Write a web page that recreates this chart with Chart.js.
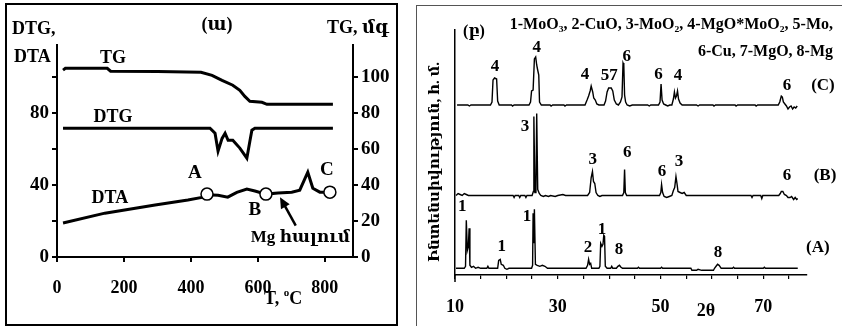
<!DOCTYPE html>
<html>
<head>
<meta charset="utf-8">
<title>TG/DTA and XRD</title>
<script src="https://cdn.jsdelivr.net/npm/chart.js@4.4.0/dist/chart.umd.min.js"></script>
<style>
  html, body { margin: 0; padding: 0; background: #fff; }
  body { width: 842px; height: 326px; position: relative; overflow: hidden; }
  .frame { position: absolute; box-sizing: border-box; pointer-events: none; }
  #frame-left { left: 5px; top: 3px; width: 393px; height: 323px; border: 2px solid #000; }
  #frame-right { left: 416px; top: 5px; width: 440px; height: 340px; border: 1px solid #555; }
  .wrap { position: absolute; top: 0; height: 326px; }
  #thermo-wrap { left: 0; width: 400px; }
  #xrd-wrap { left: 420px; width: 422px; }
</style>
</head>
<body>
<div class="wrap" id="thermo-wrap"><canvas id="thermo-chart"></canvas></div>
<div class="wrap" id="xrd-wrap"><canvas id="xrd-chart"></canvas></div>
<div class="frame" id="frame-left"></div>
<div class="frame" id="frame-right"></div>

<script>
// ---- left panel: thermal analysis ----
const TG_T  = [18, 25, 150, 160, 300, 430, 463, 493, 525, 546, 561, 576, 612, 627, 824];
const TG_MG = [104, 105, 105, 103.4, 103.2, 102.8, 101.1, 98.3, 95.6, 92.8, 89.4, 86.7, 86.1, 85, 85];

const DTG_T = [18, 457, 472, 481, 493, 502, 511, 525, 546, 567, 576, 582, 591, 824];
const DTG_V = [71.7, 71.7, 68.9, 58.9, 66, 68.9, 65, 65, 60.6, 55, 64.4, 70.6, 71.7, 71.7];

const DTA_T = [18, 143, 293, 391, 433, 448, 481, 510, 537, 567, 591, 624, 660, 701, 725, 749, 764, 785, 815];
const DTA_V = [18.9, 24.4, 28.9, 31.7, 33.2, 34.6, 34.4, 33.3, 36, 37.8, 36.7, 35, 35.6, 36.1, 37.2, 47.2, 38.3, 36.1, 36.1];

// points A, B, C on the DTA curve
const MARK_T = [448, 624, 815];
const MARK_V = [35, 35, 36.1];
const MARK_NAMES = ["A", "B", "C"];

const T_TICKS = [0, 200, 400, 600, 800];
const DTA_TICKS = [0, 20, 40, 60, 80, 100];
const DTA_LABELS = [0, 40, 80];
const TG_TICKS = [0, 10, 20, 30, 40, 50, 60, 70, 80, 90, 100, 110];
const TG_LABELS = [0, 20, 40, 60, 80, 100];

// ---- right panel: XRD patterns, [2theta, intensity above own baseline] ----
const XRD_A = [
  [10.2, 0], [11.8, 0], [12.05, 2], [12.2, 48], [12.4, 18], [12.6, 22], [12.75, 40], [12.9, 3], [13.2, 1], [13.6, 2], [14.0, 0], [14.5, 1], [15.0, 0], [16.2, 0], [16.4, 2], [16.6, 0],
  [18.3, 0], [18.5, 8], [18.8, 9], [19.0, 4], [19.4, 3], [19.7, 0], [20.1, -1], [20.5, 0],
  [24.9, 0], [25.1, 3], [25.2, 55], [25.35, 25], [25.45, 59], [25.65, 4], [26.0, 3], [26.5, 2], [27.0, 3], [27.5, 2], [28.0, 0],
  [35.5, 0], [35.8, 3], [36.0, 9], [36.2, 4], [36.4, 5], [36.6, 0],
  [38.0, 0], [38.2, 2], [38.35, 25], [38.6, 22], [38.8, 24], [38.95, 33], [39.1, 32], [39.25, 2], [39.6, 0],
  [40.3, 0], [40.5, 2], [40.7, 0], [41.4, 0], [41.7, 2], [42.0, 3], [42.3, 1], [42.6, 0],
  [45.5, 0], [45.7, 1], [45.9, 0], [50.0, 0], [50.2, 1], [50.4, 0],
  [55.9, 0], [56.1, -2], [57.0, -2], [57.3, -1], [58.0, -2], [59.5, -2], [60.3, -2], [60.5, 0], [60.8, 2], [61.1, 4], [61.4, 3], [61.8, 0],
  [64.0, 0], [64.2, 1], [64.4, 0], [70.0, 0], [70.2, 1], [70.4, 0], [76.7, 0]
];
const XRD_B = [
  [10.2, 0], [10.6, 2], [11.0, 1], [11.4, 0], [11.8, 2], [12.2, 1], [12.6, 0], [21.3, 0], [21.5, -2], [21.7, 0], [22.4, 0], [22.6, -2], [22.8, 0], [23.6, 0], [23.8, -2], [24.0, 0],
  [25.0, 0], [25.25, 4], [25.35, 79], [25.55, 3], [25.75, 3], [25.9, 82], [26.1, 6], [26.4, 2], [26.7, 0], [27.2, -1], [27.6, 0], [28.2, -1], [28.6, 0], [29.5, -1], [30.0, 0], [31.0, 1], [31.5, 0],
  [35.8, 0], [36.2, 3], [36.5, 18], [36.75, 24], [36.95, 14], [37.2, 12], [37.45, 3], [37.8, 0], [38.2, -1], [38.6, 0],
  [42.6, 0], [42.85, 3], [43.0, 26], [43.15, 3], [43.4, 0],
  [49.8, 0], [50.05, 3], [50.2, 11], [50.4, 3], [50.7, -1], [51.2, -2], [51.7, -1], [52.2, 0], [52.5, 5], [52.75, 8], [53.0, 19], [53.2, 12], [53.4, 4], [53.8, 3], [54.2, 2], [54.6, 3], [55.0, 0],
  [67.6, 0], [67.8, -2], [68.0, 0], [69.5, 0], [69.7, -3], [69.9, 0],
  [73.0, 0], [73.3, 2], [73.5, 4], [73.8, 4], [74.1, 1], [74.5, 0], [74.8, -2], [75.2, -2], [75.5, -1], [75.9, -4], [76.2, -2], [76.5, -4], [76.7, -3]
];
const XRD_C = [
  [10.4, 0], [12.5, 0], [12.8, -1], [13.1, 0], [16.9, 0], [17.2, 3], [17.4, 25], [17.7, 27], [18.1, 26], [18.3, 4], [18.6, 0],
  [21.0, 0], [21.2, -1], [21.5, 0], [24.4, 0], [24.7, 3], [24.9, 14], [25.2, 15], [25.45, 46], [25.7, 48], [25.9, 40], [26.05, 36], [26.3, 30], [26.45, 3], [26.8, 0],
  [28.5, 0], [28.7, -1], [29.0, 0], [31.2, 0], [31.4, -1], [31.7, 0], [35.3, 0], [35.7, 5], [36.0, 9], [36.3, 14], [36.5, 19], [36.8, 13], [37.0, 7], [37.3, 5], [37.6, 1], [38.0, 0],
  [39.0, 0], [39.3, 4], [39.6, 13], [39.9, 17], [40.4, 17], [40.7, 14], [41.0, 5], [41.4, 1], [41.8, 0],
  [42.2, 3], [42.5, 8], [42.7, 42], [42.85, 40], [43.0, 10], [43.2, 3], [43.5, 0], [44.0, -1], [44.5, 0],
  [47.5, 0], [47.8, -1], [48.1, 0], [49.6, 0], [49.9, 3], [50.1, 21], [50.3, 5], [50.6, 1], [51.0, 0], [51.4, -1], [51.8, 0],
  [52.2, 0], [52.5, 6], [52.7, 13], [52.9, 7], [53.1, 9], [53.3, 14], [53.5, 6], [53.8, 2], [54.2, 0],
  [57.0, 0], [57.3, -1], [57.6, 0], [60.2, 0], [60.4, -1], [60.7, 0], [64.5, 0], [64.7, -1], [65.0, 0], [68.4, 0], [68.6, -1], [68.9, 0],
  [72.9, 0], [73.2, 3], [73.5, 9], [73.7, 8], [73.9, 3], [74.2, 1], [74.5, -1], [74.8, -4], [75.1, -2], [75.4, -1], [75.7, -4], [76.0, -2], [76.3, -3], [76.6, -1]
];
// vertical stacking of the three patterns (A bottom, C top)
const XRD_OFFSET = { A: 6.7, B: 79.5, C: 170 };

const TWO_THETA_TICKS = [10, 15, 20, 25, 30, 35, 40, 45, 50, 55, 60, 65, 70, 75];
const TWO_THETA_LABELS = [10, 30, 50, 70];

const PHASES_1 = "1-MoO\u2083, 2-CuO, 3-MoO\u2082, 4-MgO*MoO\u2082, 5-Mo,";
const PHASES_2 = "6-Cu, 7-MgO, 8-Mg";

const SERIF = '"Liberation Serif", "DejaVu Serif", serif';

function pairs(xs, ys) {
  return xs.map((x, i) => ({ x: x, y: ys[i] }));
}

// text helper for the annotation plugins
function label(ctx, text, x, y, size, align) {
  ctx.font = "bold " + size + "px " + SERIF;
  ctx.textAlign = align || "center";
  ctx.textBaseline = "middle";
  ctx.fillText(text, x, y);
}

// labels, arrow and axis titles of the thermal chart
const thermoNotes = {
  id: "thermoNotes",
  afterDraw(chart) {
    const ctx = chart.ctx;
    const x = chart.scales.x;
    const y = chart.scales.y;
    ctx.save();
    ctx.fillStyle = "#000";
    ctx.strokeStyle = "#000";

    label(ctx, "TG", x.getPixelForValue(167), y.getPixelForValue(110.6), 18);
    label(ctx, "DTG", x.getPixelForValue(167), y.getPixelForValue(77.8), 18);
    label(ctx, "DTA", x.getPixelForValue(158), y.getPixelForValue(32.8), 18);
    label(ctx, MARK_NAMES[0], x.getPixelForValue(412), y.getPixelForValue(46.7), 19);
    label(ctx, MARK_NAMES[1], x.getPixelForValue(591), y.getPixelForValue(26), 19);
    label(ctx, MARK_NAMES[2], x.getPixelForValue(806), y.getPixelForValue(48.3), 19);
    label(ctx, "Mg հալում", x.getPixelForValue(727), y.getPixelForValue(11), 17);

    // arrow pointing at the DTA curve
    const x0 = x.getPixelForValue(713), y0 = y.getPixelForValue(17.5);
    const x1 = x.getPixelForValue(666), y1 = y.getPixelForValue(33.3);
    const ang = Math.atan2(y1 - y0, x1 - x0);
    ctx.lineWidth = 2.5;
    ctx.beginPath();
    ctx.moveTo(x0, y0);
    ctx.lineTo(x1 - 6 * Math.cos(ang), y1 - 6 * Math.sin(ang));
    ctx.stroke();
    ctx.beginPath();
    ctx.moveTo(x1, y1);
    ctx.lineTo(x1 - 11 * Math.cos(ang) + 5 * Math.sin(ang), y1 - 11 * Math.sin(ang) - 5 * Math.cos(ang));
    ctx.lineTo(x1 - 11 * Math.cos(ang) - 5 * Math.sin(ang), y1 - 11 * Math.sin(ang) + 5 * Math.cos(ang));
    ctx.closePath();
    ctx.fill();

    // axis titles
    label(ctx, "DTG,", 12, 29, 18, "left");
    label(ctx, "DTA", 14, 57, 18, "left");
    label(ctx, "TG, մգ", 327, 28, 18, "left");
    label(ctx, "(ա)", 217, 25, 18);
    ctx.font = "bold 18px " + SERIF;
    ctx.textAlign = "left";
    ctx.textBaseline = "middle";
    ctx.fillText("T, ", 264, 299);
    let w = ctx.measureText("T, ").width;
    ctx.font = "bold 11px " + SERIF;
    ctx.fillText("o", 264 + w, 293);
    w += ctx.measureText("o").width;
    ctx.font = "bold 18px " + SERIF;
    ctx.fillText("C", 264 + w, 299);
    ctx.restore();
  }
};

// phase numbers, legend and titles of the XRD chart
const PEAK_NOTES = [
  [17.8, 208, "4"], [25.9, 227, "4"], [35.3, 200, "4"], [40.0, 199, "57"], [43.4, 218, "6"], [49.6, 200, "6"], [53.4, 199, "4"], [74.6, 189, "6"], [81.6, 189, "(C)"],
  [23.6, 148, "3"], [36.8, 115, "3"], [43.5, 122, "6"], [50.3, 103, "6"], [53.6, 113, "3"], [74.6, 99, "6"], [82.0, 99, "(B)"],
  [11.4, 68, "1"], [19.1, 28, "1"], [24.0, 58, "1"], [35.9, 27, "2"], [38.6, 45, "1"], [41.9, 25, "8"], [61.2, 22, "8"], [80.6, 27, "(A)"]
];

const xrdNotes = {
  id: "xrdNotes",
  afterDraw(chart) {
    const ctx = chart.ctx;
    const x = chart.scales.x;
    const y = chart.scales.y;
    const area = chart.chartArea;
    ctx.save();
    ctx.fillStyle = "#000";
    ctx.strokeStyle = "#000";
    PEAK_NOTES.forEach((n) => {
      label(ctx, n[2], x.getPixelForValue(n[0]), y.getPixelForValue(n[1]), 17);
    });
    // y axis runs a little below the 2theta axis
    ctx.lineWidth = 1.5;
    ctx.beginPath();
    ctx.moveTo(area.left, area.bottom);
    ctx.lineTo(area.left, area.bottom + 7);
    ctx.stroke();

    label(ctx, PHASES_1, 413, 25, 16, "right");
    label(ctx, PHASES_2, 413, 52, 16, "right");
    label(ctx, "(բ)", 54, 32, 16);
    label(ctx, "2θ", 286, 311, 18);

    ctx.translate(15, 162);
    ctx.rotate(-Math.PI / 2);
    label(ctx, "Ինտենսիվություն, հ. մ.", 0, 0, 15);
    ctx.restore();
  }
};

const tickFont = { family: SERIF, size: 18, weight: "bold" };
const sideFont = { family: SERIF, size: 19, weight: "bold" };

const thermoChart = new Chart(document.getElementById("thermo-chart"), {
  type: "line",
  data: {
    datasets: [
      {
        label: "points",
        data: pairs(MARK_T, MARK_V),
        yAxisID: "y",
        showLine: false,
        pointRadius: 6,
        pointBorderWidth: 1.5,
        pointBackgroundColor: "#fff",
        pointBorderColor: "#000",
        order: 0,
      },
      { label: "TG", data: pairs(TG_T, TG_MG), yAxisID: "y2", borderColor: "#000", borderWidth: 3, pointRadius: 0, order: 1 },
      { label: "DTG", data: pairs(DTG_T, DTG_V), yAxisID: "y", borderColor: "#000", borderWidth: 3, pointRadius: 0, order: 1 },
      { label: "DTA", data: pairs(DTA_T, DTA_V), yAxisID: "y", borderColor: "#000", borderWidth: 3, pointRadius: 0, order: 1 },
    ],
  },
  options: {
    responsive: true,
    maintainAspectRatio: false,
    animation: false,
    devicePixelRatio: 1,
    layout: { padding: { top: 45, left: 0, right: 0, bottom: 0 } },
    plugins: { legend: { display: false }, tooltip: { enabled: false } },
    scales: {
      x: {
        type: "linear",
        min: 0,
        max: 884,
        afterBuildTicks: (s) => { s.ticks = T_TICKS.map((v) => ({ value: v })); },
        afterFit: (s) => { s.height = 69; },
        grid: { drawOnChartArea: false, tickLength: 5, color: "#000", lineWidth: 2 },
        border: { color: "#000", width: 2 },
        ticks: { color: "#000", font: tickFont, padding: 16, maxRotation: 0 },
      },
      y: {
        position: "left",
        min: 0,
        max: 118,
        afterBuildTicks: (s) => { s.ticks = DTA_TICKS.map((v) => ({ value: v })); },
        afterFit: (s) => { s.width = 57; },
        grid: { drawOnChartArea: false, tickLength: 5, color: "#000", lineWidth: 2 },
        border: { color: "#000", width: 2 },
        ticks: { color: "#000", font: sideFont, padding: 3, callback: (v) => (DTA_LABELS.includes(v) ? String(v) : "") },
      },
      y2: {
        position: "right",
        min: 0,
        max: 118,
        afterBuildTicks: (s) => { s.ticks = TG_TICKS.map((v) => ({ value: v })); },
        afterFit: (s) => { s.width = 47; },
        grid: { drawOnChartArea: false, tickLength: 5, color: "#000", lineWidth: 2 },
        border: { color: "#000", width: 2 },
        ticks: { color: "#000", font: sideFont, padding: 3, callback: (v) => (TG_LABELS.includes(v) ? String(v) : "") },
      },
    },
  },
  plugins: [thermoNotes],
});

function stacked(pattern, offset) {
  return pattern.map((p) => ({ x: p[0], y: offset + p[1] }));
}

const xrdLine = { borderColor: "#000", borderWidth: 1.4, pointRadius: 0, tension: 0 };

const xrdChart = new Chart(document.getElementById("xrd-chart"), {
  type: "line",
  data: {
    datasets: [
      Object.assign({ label: "A", data: stacked(XRD_A, XRD_OFFSET.A) }, xrdLine),
      Object.assign({ label: "B", data: stacked(XRD_B, XRD_OFFSET.B) }, xrdLine),
      Object.assign({ label: "C", data: stacked(XRD_C, XRD_OFFSET.C) }, xrdLine),
    ],
  },
  options: {
    responsive: true,
    maintainAspectRatio: false,
    animation: false,
    devicePixelRatio: 1,
    layout: { padding: { top: 30, left: 0, right: 35, bottom: 0 } },
    plugins: { legend: { display: false }, tooltip: { enabled: false } },
    scales: {
      x: {
        type: "linear",
        min: 10,
        max: 78.5,
        afterBuildTicks: (s) => { s.ticks = TWO_THETA_TICKS.map((v) => ({ value: v })); },
        afterFit: (s) => { s.height = 51; },
        grid: { drawOnChartArea: false, tickLength: 4, color: "#000", lineWidth: 1.2 },
        border: { color: "#000", width: 1.5 },
        ticks: { color: "#000", font: tickFont, padding: 18, maxRotation: 0, callback: (v) => (TWO_THETA_LABELS.includes(v) ? String(v) : "") },
      },
      y: {
        min: 0,
        max: 245,
        afterFit: (s) => { s.width = 35; },
        grid: { drawOnChartArea: false, drawTicks: false },
        border: { color: "#000", width: 1.5 },
        ticks: { display: false },
      },
    },
  },
  plugins: [xrdNotes],
});
</script>
</body>
</html>
